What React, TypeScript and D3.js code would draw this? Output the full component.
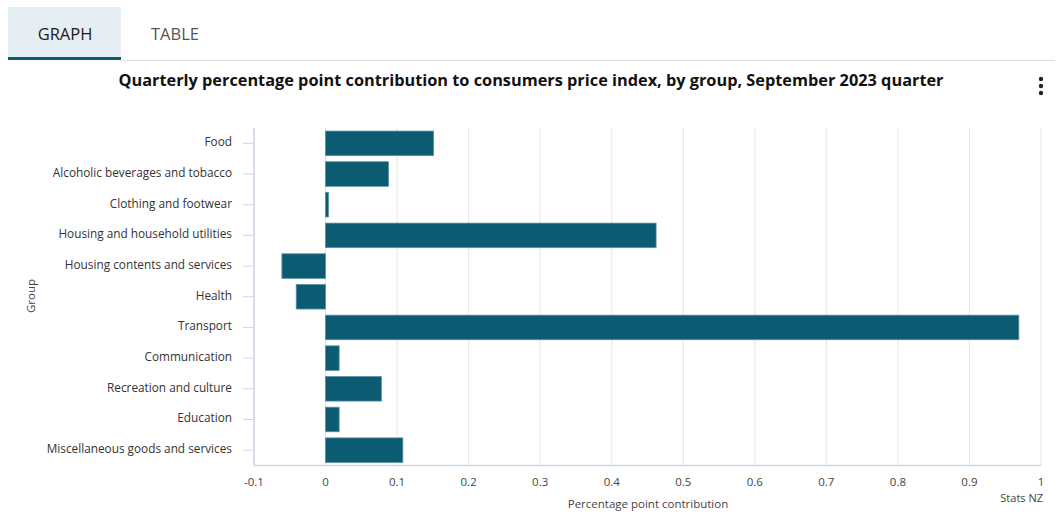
import React from "react";
import * as d3 from "d3";

const categories = [
  "Food",
  "Alcoholic beverages and tobacco",
  "Clothing and footwear",
  "Housing and household utilities",
  "Housing contents and services",
  "Health",
  "Transport",
  "Communication",
  "Recreation and culture",
  "Education",
  "Miscellaneous goods and services",
];
const values = [0.151, 0.088, 0.004, 0.462, -0.061, -0.041, 0.969, 0.019, 0.078, 0.019, 0.108];
const xTicks = [-0.1, 0, 0.1, 0.2, 0.3, 0.4, 0.5, 0.6, 0.7, 0.8, 0.9, 1];

const W = 1060;
const H = 517;
const FONT = "'Open Sans', Lato, sans-serif";

export default function App() {
  const left = 254;
  const right = 1041;
  const top = 128;
  const bottom = 465.5;
  const x = d3.scaleLinear().domain([-0.1, 1]).range([left, right]);
  const y = d3.scaleBand<string>().domain(categories).range([top, bottom]).paddingInner(0.2).paddingOuter(0.1);
  const yc = (c: string) => (y(c) as number) + y.bandwidth() / 2;
  const fmt = (v: number) => (v === 0 ? "0" : String(+v.toFixed(1)));

  return (
    <svg width={W} height={H} style={{ position: "absolute", left: 0, top: 0, fontFamily: FONT }}>
      <rect x={0} y={0} width={W} height={H} fill="#fff" />
      {/* tabs */}
      <rect x={8} y={7} width={113} height={51} fill="#e5eef2" />
      <rect x={8} y={57} width={113} height={3} fill="#0b5c73" />
      <line x1={121} x2={1055} y1={60.5} y2={60.5} stroke="#e0e0e0" strokeWidth={1} />
      <text x={65} y={40} textAnchor="middle" fontSize={16.5} fill="#1a1a1a">GRAPH</text>
      <text x={175} y={40} textAnchor="middle" fontSize={16.5} fill="#555">TABLE</text>
      {/* title */}
      <text x={531} y={86} textAnchor="middle" fontSize={15.5} fontWeight={700} fill="#111" textLength={825} lengthAdjust="spacingAndGlyphs">
        Quarterly percentage point contribution to consumers price index, by group, September 2023 quarter
      </text>
      {/* menu dots */}
      {[79, 86, 93].map((cy) => (
        <circle key={cy} cx={1041} cy={cy} r={2.2} fill="#222" />
      ))}
      {/* gridlines */}
      {xTicks.map((t) => (
        <line key={t} x1={x(t)} x2={x(t)} y1={top} y2={bottom} stroke="#e6e6e6" strokeWidth={1} />
      ))}
      {/* bars */}
      {categories.map((c, i) => {
        const v = values[i];
        const x0 = x(Math.min(0, v));
        const x1 = x(Math.max(0, v));
        return (
          <rect
            key={c}
            x={x0}
            y={y(c)}
            width={x1 - x0}
            height={y.bandwidth()}
            fill="#0b5c73"
            stroke="#5a8fa0"
            strokeWidth={0.8}
          />
        );
      })}
      {/* axes */}
      <line x1={left} x2={left} y1={top} y2={bottom} stroke="#ccd6eb" strokeWidth={1.5} />
      <line x1={left} x2={right} y1={bottom} y2={bottom} stroke="#ccd6eb" strokeWidth={1.5} />
      {categories.map((c) => (
        <g key={c}>
          <line x1={243} x2={254} y1={yc(c)} y2={yc(c)} stroke="#ccd6eb" strokeWidth={1} />
          <text x={232} y={yc(c) + 3} textAnchor="end" fontSize={11.8} fill="#333">
            {c}
          </text>
        </g>
      ))}
      {xTicks.map((t) => (
        <text key={t} x={x(t)} y={486} textAnchor="middle" fontSize={11.5} fill="#444">
          {fmt(t)}
        </text>
      ))}
      <text x={648} y={508} textAnchor="middle" fontSize={11.5} fill="#444">
        Percentage point contribution
      </text>
      <text transform={`translate(35,296) rotate(-90)`} textAnchor="middle" fontSize={11.5} fill="#444">
        Group
      </text>
      <text x={1043} y={502} textAnchor="end" fontSize={11} fill="#444">
        Stats NZ
      </text>
    </svg>
  );
}
